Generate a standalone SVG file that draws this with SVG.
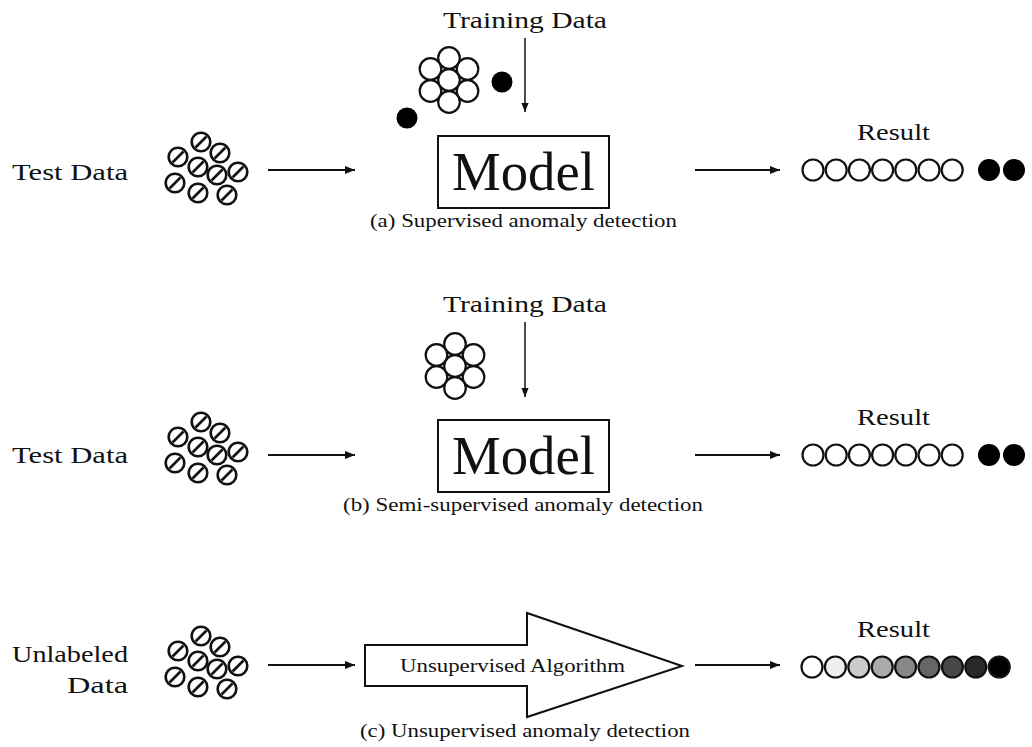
<svg xmlns="http://www.w3.org/2000/svg" width="1032" height="747" viewBox="0 0 1032 747">
<style>
text{font-family:"Liberation Serif","Times New Roman",serif;fill:#111}
.lbl{font-size:23px}
.cap{font-size:18px}
.model{font-size:54px}
.alg{font-size:18px}
.w{fill:#fff;stroke:#111;stroke-width:2.2}
.b{fill:#000}
.x{fill:#fff;stroke:#111;stroke-width:2.6}
.sl{stroke:#111;stroke-width:2.6}
.ar{stroke:#111;stroke-width:2;fill:none}
.arv{stroke:#111;stroke-width:1.5;fill:none}
.box{fill:#fff;stroke:#111;stroke-width:2}
</style>
<defs>
<marker id="ah" viewBox="0 0 10 8" refX="10" refY="4" markerWidth="5" markerHeight="4" orient="auto" markerUnits="strokeWidth">
<path d="M0,0 L10,4 L0,8 Z" fill="#111"/>
</marker>
<marker id="ahv" viewBox="0 0 10 8" refX="10" refY="4" markerWidth="6" markerHeight="5" orient="auto" markerUnits="strokeWidth">
<path d="M0,0 L10,4 L0,8 Z" fill="#111"/>
</marker>
<g id="xc">
<circle class="x" r="9.3"/>
<line class="sl" x1="-5.5" y1="5.5" x2="5.5" y2="-5.5"/>
</g>
<g id="cluster">
<use href="#xc" x="201" y="142"/>
<use href="#xc" x="178" y="157"/>
<use href="#xc" x="220" y="153"/>
<use href="#xc" x="198" y="167"/>
<use href="#xc" x="217" y="175"/>
<use href="#xc" x="238" y="172"/>
<use href="#xc" x="175" y="183"/>
<use href="#xc" x="198" y="193"/>
<use href="#xc" x="227" y="195"/>
</g>
<g id="hex">
<circle class="w" cx="0" cy="-22" r="10.8"/>
<circle class="w" cx="-18.5" cy="-11" r="10.8"/>
<circle class="w" cx="18.5" cy="-11" r="10.8"/>
<circle class="w" cx="-18.5" cy="11" r="10.8"/>
<circle class="w" cx="18.5" cy="11" r="10.8"/>
<circle class="w" cx="0" cy="22" r="10.8"/>
<circle class="w" cx="0" cy="0" r="10.8"/>
</g>
<g id="row7">
<circle class="w" cx="813" r="10.5"/>
<circle class="w" cx="836.2" r="10.5"/>
<circle class="w" cx="859.4" r="10.5"/>
<circle class="w" cx="882.6" r="10.5"/>
<circle class="w" cx="905.8" r="10.5"/>
<circle class="w" cx="929" r="10.5"/>
<circle class="w" cx="952.2" r="10.5"/>
<circle class="b" cx="989" r="11"/>
<circle class="b" cx="1014" r="11"/>
</g>
</defs>

<!-- Panel (a) -->
<g id="a-test">
<text class="lbl" x="12" y="180" textLength="116" lengthAdjust="spacingAndGlyphs">Test Data</text>
<use href="#cluster"/>
</g>
<g id="a-training">
<text class="lbl" x="443" y="28" textLength="164" lengthAdjust="spacingAndGlyphs">Training Data</text>
<use href="#hex" x="449" y="80"/>
<circle class="b" cx="502" cy="82" r="10.5"/>
<circle class="b" cx="407" cy="118" r="10.5"/>
</g>
<g id="a-model">
<rect class="box" x="438" y="136" width="171" height="72"/>
<text class="model" x="452" y="190" textLength="143" lengthAdjust="spacingAndGlyphs">Model</text>
<text class="cap" x="370" y="227" textLength="307" lengthAdjust="spacingAndGlyphs">(a) Supervised anomaly detection</text>
</g>
<g id="a-result">
<text class="lbl" x="857" y="140" textLength="73" lengthAdjust="spacingAndGlyphs">Result</text>
<use href="#row7" y="170"/>
</g>

<!-- Panel (b) -->
<g id="b-test">
<text class="lbl" x="12" y="463" textLength="116" lengthAdjust="spacingAndGlyphs">Test Data</text>
<use href="#cluster" y="280"/>
</g>
<g id="b-training">
<text class="lbl" x="443" y="312" textLength="164" lengthAdjust="spacingAndGlyphs">Training Data</text>
<use href="#hex" x="455" y="366"/>
</g>
<g id="b-model">
<rect class="box" x="438" y="420" width="171" height="72"/>
<text class="model" x="452" y="474" textLength="143" lengthAdjust="spacingAndGlyphs">Model</text>
<text class="cap" x="343" y="511" textLength="360" lengthAdjust="spacingAndGlyphs">(b) Semi-supervised anomaly detection</text>
</g>
<g id="b-result">
<text class="lbl" x="857" y="425" textLength="73" lengthAdjust="spacingAndGlyphs">Result</text>
<use href="#row7" y="455"/>
</g>

<!-- Panel (c) -->
<g id="c-test">
<text class="lbl" x="12" y="662" textLength="116" lengthAdjust="spacingAndGlyphs">Unlabeled</text>
<text class="lbl" x="67" y="693" textLength="61" lengthAdjust="spacingAndGlyphs">Data</text>
<use href="#cluster" y="494"/>
</g>
<g id="c-algorithm">
<polygon class="box" points="365,645 527,645 527,613 682,666 527,717 527,686 365,686"/>
<text class="alg" x="400" y="672" textLength="225" lengthAdjust="spacingAndGlyphs">Unsupervised Algorithm</text>
<text class="cap" x="360" y="737" textLength="330" lengthAdjust="spacingAndGlyphs">(c) Unsupervised anomaly detection</text>
</g>
<g id="c-result">
<text class="lbl" x="857" y="637" textLength="73" lengthAdjust="spacingAndGlyphs">Result</text>
<circle class="w" cx="812" cy="667" r="10.5"/>
<circle class="w" cx="835.4" cy="667" r="10.5" style="fill:#eeeeee"/>
<circle class="w" cx="858.8" cy="667" r="10.5" style="fill:#cccccc"/>
<circle class="w" cx="882.2" cy="667" r="10.5" style="fill:#aaaaaa"/>
<circle class="w" cx="905.6" cy="667" r="10.5" style="fill:#888888"/>
<circle class="w" cx="929" cy="667" r="10.5" style="fill:#666666"/>
<circle class="w" cx="952.4" cy="667" r="10.5" style="fill:#474747"/>
<circle class="w" cx="975.8" cy="667" r="10.5" style="fill:#282828"/>
<circle class="w" cx="999.2" cy="667" r="10.5" style="fill:#000000"/>
</g>

<g id="connectors">
<line class="ar" x1="268" y1="170" x2="355" y2="170" marker-end="url(#ah)"/>
<line class="ar" x1="695" y1="170" x2="780" y2="170" marker-end="url(#ah)"/>
<line class="arv" x1="525" y1="38" x2="525" y2="112" marker-end="url(#ahv)"/>
<line class="ar" x1="268" y1="455" x2="355" y2="455" marker-end="url(#ah)"/>
<line class="ar" x1="695" y1="455" x2="780" y2="455" marker-end="url(#ah)"/>
<line class="arv" x1="525" y1="322" x2="525" y2="397" marker-end="url(#ahv)"/>
<line class="ar" x1="268" y1="665" x2="355" y2="665" marker-end="url(#ah)"/>
<line class="ar" x1="695" y1="665" x2="780" y2="665" marker-end="url(#ah)"/>
</g>
</svg>
